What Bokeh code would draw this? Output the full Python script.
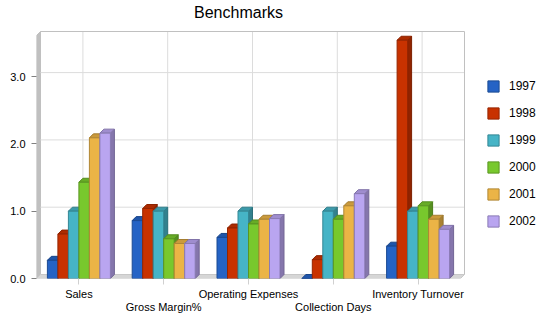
from bokeh.plotting import figure
from bokeh.models import (ColumnDataSource, Legend, LegendItem, Label,
                          FixedTicker, LinearAxis, Range1d, NumeralTickFormatter)
from bokeh.embed import file_html
from bokeh.resources import INLINE

# ---- data -------------------------------------------------------------
categories = ["Sales", "Gross Margin%", "Operating Expenses", "Collection Days", "Inventory Turnover"]
years = ["1997", "1998", "1999", "2000", "2001", "2002"]

values_1997 = [0.27, 0.86, 0.61, 0.00, 0.48]
values_1998 = [0.66, 1.04, 0.75, 0.28, 3.54]
values_1999 = [1.00, 1.00, 1.00, 1.00, 1.00]
values_2000 = [1.43, 0.59, 0.81, 0.88, 1.08]
values_2001 = [2.09, 0.52, 0.88, 1.08, 0.88]
values_2002 = [2.16, 0.52, 0.89, 1.26, 0.73]
series = [values_1997, values_1998, values_1999, values_2000, values_2001, values_2002]

y_ticks = [0, 1, 2, 3]

colors = ["#2563c5", "#c83200", "#46b4c6", "#78c82d", "#ebb446", "#b9a5f0"]


def shade(hex_color, f):
    r, g, b = (int(hex_color[i:i + 2], 16) for i in (1, 3, 5))
    return "#%02x%02x%02x" % (int(r * f), int(g * f), int(b * f))


# ---- geometry (pixels -> data units) -----------------------------------
PX_X = 84.8          # pixels per category
PX_Y = 67.3          # pixels per unit of value
DX = 4 / PX_X        # depth offset of the 3D look
DY = 4 / PX_Y
BAR_W = 10.5 / PX_X
N = len(categories)
X_END = 514 / PX_X   # frame runs to the right edge so the legend has room
Y_END = 278 / PX_Y   # ... and to the top edge so the title has room
BACK_TOP = 247 / PX_Y
TOP_FRONT = BACK_TOP - DY

p = figure(width=550, height=318, output_backend="svg", toolbar_location=None,
           x_range=Range1d(0, X_END), y_range=Range1d(0, Y_END),
           min_border_left=36, min_border_right=0, min_border_top=0,
           min_border_bottom=40, x_axis_location=None, y_axis_location=None,
           background_fill_color="white", border_fill_color="white")
p.outline_line_color = None
p.xgrid.visible = False
p.ygrid.visible = False

# side wall and floor
p.patch([0, DX, DX, 0], [0, DY, BACK_TOP, TOP_FRONT], fill_color="#c0c0c0", line_color="#c0c0c0")
p.patch([0, DX, N + DX, N], [0, DY, DY, 0], fill_color="#d6d6d6", line_color="#c8c8c8")

grid_color = "#dcdcdc"
centers = [i + 0.5 for i in range(N)]
p.segment(x0=[c + DX for c in centers], y0=[DY] * N, x1=[c + DX for c in centers], y1=[BACK_TOP] * N,
          line_color=grid_color, line_width=1)
gy = [t + DY for t in y_ticks[1:]]
p.segment(x0=[DX] * len(gy), y0=gy, x1=[N + DX] * len(gy), y1=gy, line_color=grid_color, line_width=1)
p.line([DX, N + DX, N + DX], [BACK_TOP, BACK_TOP, DY], line_color="#c0c0c0", line_width=1)

# ---- 3D bars -----------------------------------------------------------
group_w = BAR_W * len(years)
legend_items = []
for j, (yr, vals, col) in enumerate(zip(years, series, colors)):
    lefts = [c - group_w / 2 + j * BAR_W for c in centers]
    rights = [l + BAR_W for l in lefts]
    side_xs = [[r, r + DX, r + DX, r] for r in rights]
    side_ys = [[0, DY, v + DY, v] for v in vals]
    top_xs = [[l, l + DX, r + DX, r] for l, r in zip(lefts, rights)]
    top_ys = [[v, v + DY, v + DY, v] for v in vals]
    p.patches(side_xs, side_ys, fill_color=shade(col, 0.72), line_color=shade(col, 0.62), line_width=1)
    p.patches(top_xs, top_ys, fill_color=shade(col, 0.86), line_color=shade(col, 0.7), line_width=1)
    src = ColumnDataSource(dict(left=lefts, right=rights, top=vals, bottom=[0] * N))
    r = p.quad(left="left", right="right", top="top", bottom="bottom", source=src,
               fill_color=col, line_color=shade(col, 0.75), line_width=1)
    legend_items.append(LegendItem(label=yr, renderers=[r]))

# title
p.add_layout(Label(x=(238 - 36) / PX_X, y=(278 - 12) / PX_Y, text="Benchmarks",
                   text_align="center", text_baseline="middle", text_font="Liberation Sans",
                   text_font_size="16px", text_color="#000000"))

# ---- axes --------------------------------------------------------------
yaxis = LinearAxis(ticker=FixedTicker(ticks=y_ticks), formatter=NumeralTickFormatter(format="0.0"))
yaxis.axis_line_color = None
yaxis.major_tick_in = 0
yaxis.major_tick_out = 5
yaxis.major_tick_line_color = "#808080"
yaxis.minor_tick_line_color = None
yaxis.major_label_standoff = 6
yaxis.major_label_text_font = "Liberation Sans"
yaxis.major_label_text_font_size = "11px"
yaxis.major_label_text_color = "#000000"
p.add_layout(yaxis, "left")

# category labels, staggered over two rows
upper = {centers[i]: categories[i] if i % 2 == 0 else " " for i in range(N)}
lower = {centers[i]: categories[i] for i in range(N) if i % 2 == 1}

xaxis1 = LinearAxis(ticker=FixedTicker(ticks=centers), major_label_overrides=upper)
xaxis1.axis_line_color = None
xaxis1.major_tick_in = 0
xaxis1.major_tick_out = 6
xaxis1.major_tick_line_color = "#d0d0d0"
xaxis1.minor_tick_line_color = None
xaxis1.major_label_standoff = 3
xaxis1.major_label_text_font = "Liberation Sans"
xaxis1.major_label_text_font_size = "11px"
xaxis1.major_label_text_color = "#000000"
p.add_layout(xaxis1, "below")

xaxis2 = LinearAxis(ticker=FixedTicker(ticks=[centers[1], centers[3]]), major_label_overrides=lower)
xaxis2.axis_line_color = None
xaxis2.major_tick_in = 0
xaxis2.major_tick_out = 0
xaxis2.major_tick_line_color = None
xaxis2.minor_tick_line_color = None
xaxis2.major_label_standoff = -2
xaxis2.major_label_text_font = "Liberation Sans"
xaxis2.major_label_text_font_size = "11px"
xaxis2.major_label_text_color = "#000000"
p.add_layout(xaxis2, "below")

legend = Legend(items=legend_items, location=(450, 50), orientation="vertical",
                glyph_width=14, glyph_height=14, label_height=14, spacing=13,
                label_standoff=9, padding=0, margin=0, border_line_color=None,
                background_fill_alpha=0, label_text_font="Liberation Sans",
                label_text_font_size="12px", label_text_color="#000000")
p.add_layout(legend, "center")

open("out.html", "w").write(file_html(p, INLINE))
